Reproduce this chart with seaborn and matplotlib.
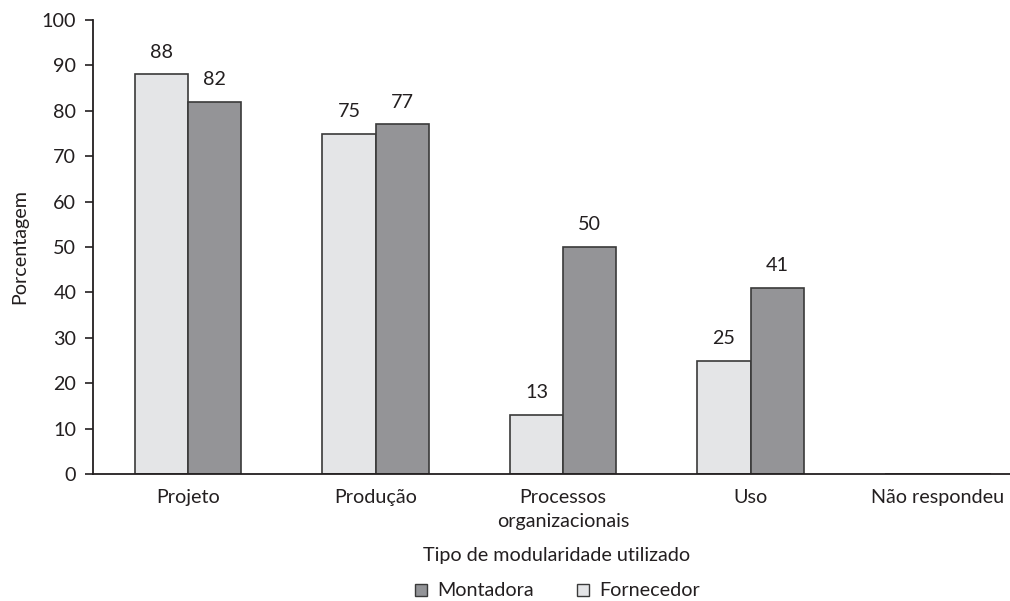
import matplotlib
matplotlib.use("Agg")
import matplotlib.pyplot as plt
import seaborn as sns
import pandas as pd
from matplotlib.lines import Line2D

categories = ["Projeto", "Produção", "Processos\norganizacionais", "Uso", "Não respondeu"]
fornecedor = [88, 75, 13, 25, 0]
montadora = [82, 77, 50, 41, 0]
series = ["Fornecedor", "Montadora"]
colors = {"Fornecedor": "#e4e5e7", "Montadora": "#939498"}
yticks = [0, 10, 20, 30, 40, 50, 60, 70, 80, 90, 100]

df = pd.DataFrame({
    "categoria": categories * 2,
    "valor": fornecedor + montadora,
    "serie": ["Fornecedor"] * len(categories) + ["Montadora"] * len(categories),
})

sns.set_theme(style="white")
plt.rcParams["font.family"] = ["Lato", "DejaVu Sans"]
plt.rcParams["text.color"] = "#231f20"
FS = 14.2

fig = plt.figure(figsize=(10.1, 6.01), dpi=100)
ax = fig.add_axes([93 / 1010, 1 - 474 / 601, (1010 - 93) / 1010, (474 - 20) / 601])

sns.barplot(data=df, x="categoria", y="valor", hue="serie", hue_order=series,
            order=categories, palette=colors, width=0.566, edgecolor="#3a3a3a",
            linewidth=1.2, legend=False, ax=ax)

for cont in ax.containers:
    labels = [f"{v:.0f}" if v > 0 else "" for v in cont.datavalues]
    ax.bar_label(cont, labels=labels, padding=10, fontsize=FS, color="#231f20")

ax.set_ylim(0, 100)
ax.set_xlim(-0.507, 4.384)
ax.set_yticks(yticks)
ax.set_yticklabels([str(t) for t in yticks], fontsize=FS, color="#231f20")
ax.tick_params(axis="y", direction="out", length=6, width=1.2, color="#231f20", pad=6, left=True)
ax.tick_params(axis="x", length=0, pad=11, labelsize=FS, labelcolor="#231f20")
for lab in ax.get_xticklabels():
    lab.set_linespacing(1.45)

for side in ["top", "right"]:
    ax.spines[side].set_visible(False)
for side in ["left", "bottom"]:
    ax.spines[side].set_color("#231f20")
    ax.spines[side].set_linewidth(1.3)

ax.set_ylabel("Porcentagem", fontsize=FS, color="#231f20", labelpad=10)
ax.set_xlabel("")
fig.text(0.551, 1 - 556 / 601, "Tipo de modularidade utilizado", ha="center", va="center",
         fontsize=FS, color="#231f20")

handles = [
    Line2D([], [], marker="s", linestyle="none", markersize=8.5,
           markerfacecolor=colors["Montadora"], markeredgecolor="#3a3a3a", markeredgewidth=1.0),
    Line2D([], [], marker="s", linestyle="none", markersize=8.5,
           markerfacecolor=colors["Fornecedor"], markeredgecolor="#3a3a3a", markeredgewidth=1.0),
]
fig.legend(handles, ["Montadora", "Fornecedor"], loc="center", ncol=2,
           bbox_to_anchor=(0.551, 1 - 591 / 601), frameon=False, fontsize=FS,
           handletextpad=0.4, columnspacing=2.1, handlelength=0.8)

fig.savefig("out.png", dpi=100, facecolor="white")
